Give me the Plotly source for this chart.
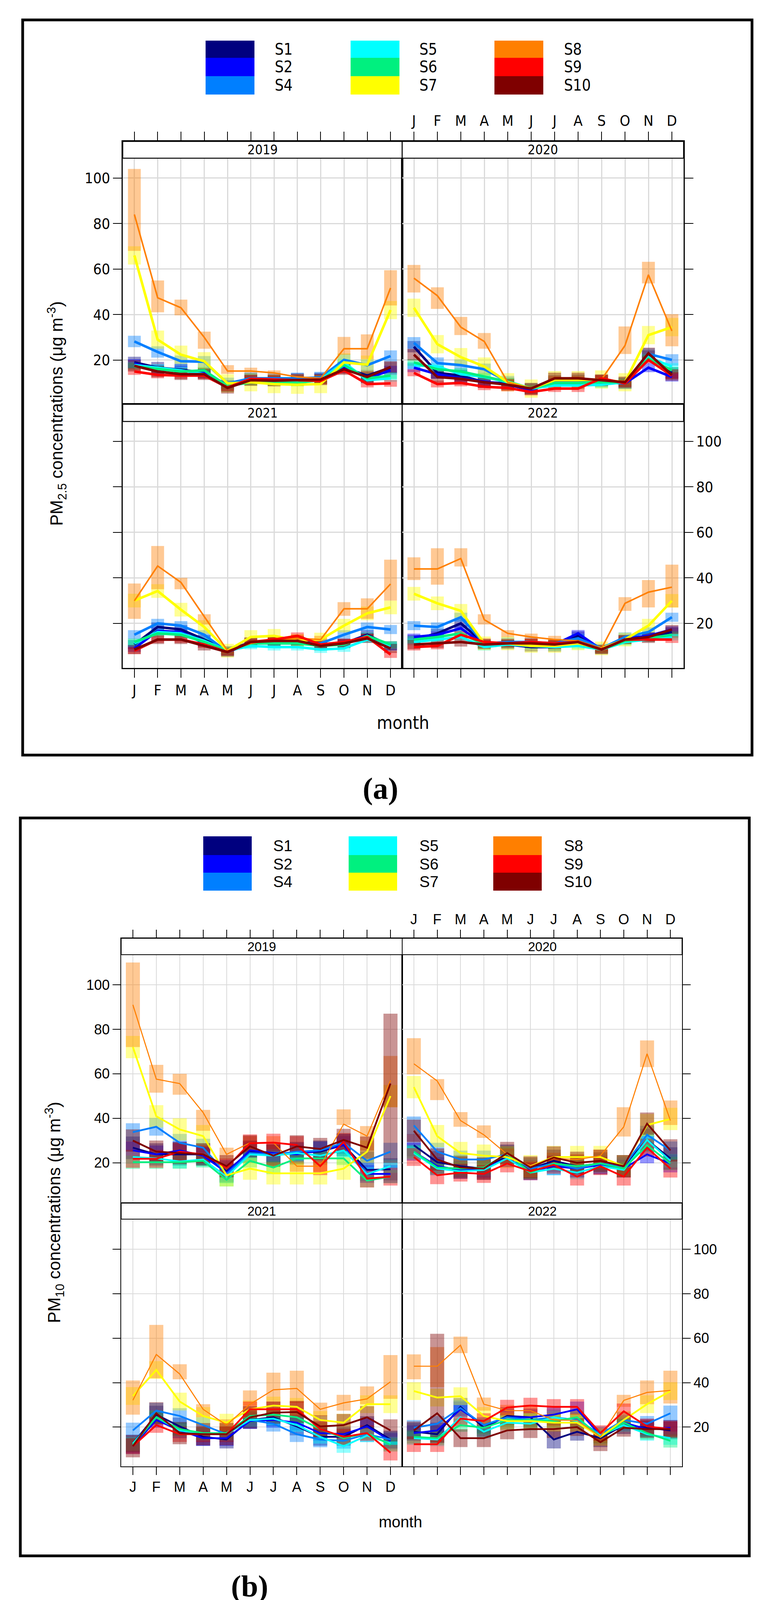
import plotly.graph_objects as go

W, H = 1947, 4128

MONTHS = ["J", "F", "M", "A", "M", "J", "J", "A", "S", "O", "N", "D"]
MONTH_NO = list(range(1, 13))
YEARS = ["2019", "2020", "2021", "2022"]
SITES = ["S1", "S2", "S4", "S5", "S6", "S7", "S8", "S9", "S10"]
SITE_COLORS = ["#00007F", "#0000FF", "#007FFF", "#00FFFF", "#00F07F",
               "#FFFF00", "#FF7F00", "#FF0000", "#7F0000"]
Y_TICKS = [20, 40, 60, 80, 100]

# ---- (a) PM2.5, one row per year 2019..2022 ----
PM25_S1 = [[19, 16.7, 15.8, 14.4, 8.6, 12, 11.2, 11.8, 12, 16.7, 13.2, 16.7],
           [25.9, 14.4, 13.2, 10.3, 9.8, 7.2, 10.9, 11.2, 11.2, 9.8, 21.8, 14.4],
           [10.7, 18.4, 17.3, 12.9, 8, 11.8, 12.3, 12.3, 10.7, 11.2, 15, 10.1],
           [12.9, 15.6, 20, 11.2, 10.7, 9.6, 9.6, 14.5, 8.5, 12.9, 14, 16.2]]
PM25_S2 = [[18.4, 16, 15.5, 14.4, 9.2, 11.5, 11, 12, 12, 17.2, 12, 15.5],
           [16.7, 13.8, 12, 10.6, 9.2, 6.9, 10.3, 10.3, 10.3, 9.8, 16.7, 12.6],
           [9, 16.7, 16.2, 11.2, 7.4, 11.2, 11.8, 11.8, 10.7, 11.2, 14.5, 9.6],
           [14, 15, 17.8, 10.7, 11.2, 10.7, 10.7, 15.6, 8.5, 13.4, 14.5, 17.3]]
PM25_S4 = [[28.2, 23.6, 19.5, 19.3, 9.8, 12, 12, 12, 12.4, 20.1, 17.8, 21.8],
           [27.6, 18.7, 17.8, 16, 10.6, 7.5, 9.8, 9.8, 10.6, 9.8, 22.7, 20.1],
           [15, 20, 19, 15, 7.4, 11.2, 11.2, 11.2, 11.2, 15, 18.4, 17.3],
           [19, 18.4, 22.7, 11.2, 11.8, 11.8, 11.2, 13.4, 9, 14, 16.2, 22.7]]
PM25_S5 = [[17.8, 16.7, 15.5, 13.8, 8.6, 10.6, 10.3, 10.3, 11.5, 19, 11.2, 12],
           [17.8, 17.2, 13.8, 12.6, 10.3, 7.5, 8.9, 8.9, 9.2, 10.3, 21.3, 17.2],
           [11.2, 16.2, 15.6, 12.3, 8, 10.1, 9.6, 9.6, 8.5, 9, 12.9, 10.1],
           [11.8, 12.9, 14, 9.6, 10.7, 10.1, 9.6, 10.1, 8.5, 11.8, 12.9, 14]]
PM25_S6 = [[17.2, 16, 15, 15.5, 8.6, 10.3, 10.3, 10, 11.2, 17.8, 12, 13.2],
           [19, 16, 15, 12.9, 10.6, 7.5, 10, 10, 10.3, 10.3, 20.7, 15.5],
           [11.8, 15.6, 15, 11.8, 8, 11.2, 11.2, 11.2, 10.1, 10.7, 14.5, 10.7],
           [12.9, 14, 15.6, 10.7, 11.2, 10.7, 10.7, 11.2, 8.5, 12.3, 13.4, 15]]
PM25_S7 = [[66, 29, 22.4, 19.5, 9.8, 10.3, 9.5, 9.2, 9.5, 19, 18, 42],
           [43, 27, 21.3, 17.2, 10.3, 7.5, 11.2, 11.2, 11.5, 10.3, 31, 34.5],
           [30, 34.2, 26, 18.4, 8, 14, 14.5, 12.3, 12.9, 19, 24.4, 27],
           [33, 28.8, 25.5, 11.2, 11.2, 10.1, 10.1, 11.2, 9, 12.9, 19, 29.9]]
PM25_S8 = [[84, 47.4, 43, 30, 15.2, 15.2, 14.4, 12.6, 12, 25, 25, 51.7],
           [56, 48.3, 34.5, 28.2, 10.3, 7.5, 11.8, 11.8, 11.5, 26.4, 57.5, 32.8],
           [29.9, 45.2, 38, 23, 8, 11.2, 12.9, 13.4, 12.9, 26.4, 26.4, 37.3],
           [43.9, 43.9, 48.5, 21.6, 15.6, 14, 12.9, 12.3, 9, 28.8, 33.7, 35.9]]
PM25_S9 = [[15, 13.5, 13.2, 13.2, 8, 11.8, 11.5, 11.2, 10.9, 15.5, 9.5, 9.8],
           [14.4, 9.5, 10, 8.3, 7.8, 6, 7.5, 7.5, 12, 9.8, 20.1, 13.2],
           [8, 12.9, 12.9, 10.7, 7.4, 11.8, 12.9, 14.5, 10.7, 11.8, 14, 6.3],
           [9.6, 10.1, 15, 11.8, 11.2, 11.8, 11.2, 11.8, 8.5, 12.9, 12.9, 12.9]]
PM25_S10 = [[17.5, 15, 13.8, 13.8, 7.8, 11.2, 11, 11.2, 11.5, 16, 12.6, 17],
            [22.4, 12.6, 11.8, 10.3, 9.2, 7.5, 12, 12, 11.2, 10.3, 23, 13.5],
            [8.5, 12.9, 12.9, 10.1, 7.4, 11.8, 12.3, 12.3, 10.1, 11.2, 13.4, 9],
            [10.7, 11.2, 11.8, 10.7, 11.2, 11.2, 10.7, 11.8, 8.5, 12.9, 14, 17.3]]
PM25_S8_LO = [[68, 41, 39.7, 25, 14, 14.6, 13, 11, 10.5, 22.4, 20.4, 44],
              [49.7, 42.5, 31, 25, 9, 6.5, 10.5, 10.5, 10, 22.7, 53.7, 26.1],
              [22, 35, 35, 19.5, 7, 10, 11.5, 12, 11.5, 23.3, 22, 30],
              [39, 37, 45, 19.5, 14, 12.5, 11.5, 11, 8, 25.5, 27, 27]]
PM25_S8_HI = [[104, 55, 46.6, 32.5, 17.8, 16.7, 15.5, 14, 13.5, 30.2, 31.3, 59.5],
              [61.8, 52, 39, 31.9, 11.5, 8.5, 13, 13, 13, 34.8, 63.2, 40.2],
              [37.5, 54, 40, 24, 9, 12.5, 14.5, 15, 14.5, 29.3, 31, 48],
              [49, 53, 53, 24, 17, 15.5, 14.5, 13.5, 10.5, 31.5, 39, 45.8]]
# half height of the shaded interval, per site and year
PM25_SPREAD = {"S1": [2.5, 2.5, 2, 2], "S2": [2, 2, 1.5, 1.5], "S4": [2.5, 2.5, 2, 2],
               "S5": [1.5, 1.5, 1.5, 1.5], "S6": [1.5, 1.5, 1.5, 1.5], "S7": [4, 4, 3, 3],
               "S9": [1.5, 1.5, 1.5, 1.5], "S10": [2.5, 2.5, 2, 2]}

# ---- (b) PM10 ----
PM10_S1 = [[26.8, 23.8, 23.8, 23.8, 16.2, 25, 23.8, 24.4, 25, 28, 16.8, 17.1],
           [27.9, 20.3, 18.5, 17.4, 23.2, 17.4, 20.9, 18.5, 19.7, 18.5, 30.3, 22],
           [12.6, 25.6, 20.3, 15.6, 14.4, 23.2, 24.4, 20.3, 15.6, 15.6, 20.9, 14.4],
           [17.9, 16.8, 29.1, 19.7, 25, 24.4, 14.4, 17.9, 15, 20.9, 19.7, 18.5]]
PM10_S2 = [[25.6, 23.8, 25.6, 23.2, 15.6, 25.6, 24.4, 23.8, 25.6, 28, 15, 15],
           [25, 18.5, 16.8, 17.4, 22, 16.2, 18.5, 17.4, 19.1, 17.4, 23.8, 19.7],
           [11.4, 23.2, 18.5, 15, 15, 22.7, 23.2, 22, 17.3, 16.8, 20.3, 13.8],
           [17.3, 18.5, 28, 20.9, 24.4, 24.4, 25.6, 28, 16.2, 22, 19.1, 19.7]]
PM10_S4 = [[33.8, 36.2, 29, 26.8, 15, 24.4, 23.8, 25, 25.6, 29, 20.9, 25],
           [36.8, 25, 21.5, 21.5, 23.8, 17.4, 19.7, 17.4, 19.7, 18.5, 32.6, 25.6],
           [18.5, 27.4, 25, 20.9, 16.8, 23.2, 21.5, 16.8, 14.4, 13.8, 16.8, 14.4],
           [19.7, 21.5, 28.6, 20.9, 24.4, 23.2, 24.4, 23.2, 16.8, 23.2, 21.5, 26.2]]
PM10_S5 = [[22.6, 22, 20.6, 21.5, 13.8, 23.8, 23.2, 24.4, 23.2, 25.6, 15, 18.5],
           [24.4, 17.4, 16.2, 16.8, 22, 15.6, 17.4, 15.6, 18.5, 16.8, 30.3, 20.9],
           [12.6, 24.4, 18.5, 16.8, 16.8, 23.2, 23.8, 20.9, 15.6, 11.4, 16.2, 12.6],
           [15, 14.4, 24.4, 17.9, 22, 21.5, 24.4, 22.7, 16.2, 20.9, 16.8, 15]]
PM10_S6 = [[20.3, 20.3, 20.3, 20.9, 12.4, 20.9, 17.9, 22, 22, 22, 12, 13.8],
           [25, 17.9, 17.4, 17.9, 24, 15.6, 19.7, 18.5, 19.7, 17.4, 27.9, 19.7],
           [12, 24.4, 19.1, 17.3, 17.3, 25, 25.6, 24.4, 19.1, 15, 17.3, 12],
           [15.6, 15, 20.9, 19.7, 23.2, 23.2, 22.7, 24.4, 15.6, 22, 17.3, 13.8]]
PM10_S7 = [[72, 40.9, 35, 32, 14.4, 17.4, 15.3, 15.3, 15.3, 17.4, 25, 50],
           [54, 32, 24.4, 23.2, 22.6, 18.5, 22.6, 22.6, 22.6, 18.5, 37, 39.7],
           [34, 45.7, 31.5, 25, 22, 28, 29.7, 29.1, 23.2, 22, 30.3, 30.3],
           [36.2, 33.3, 33.9, 25, 22.7, 22.7, 22, 22, 15.6, 23.2, 30.3, 36.2]]
PM10_S8 = [[91, 57.6, 55.6, 42.6, 23.8, 29, 29, 18.5, 18.5, 37.4, 32, 57],
           [64.5, 56.8, 39, 32.6, 23.8, 18.5, 22, 21.5, 23.2, 36.2, 69, 39],
           [32.1, 52.7, 43.9, 28, 20.9, 30.3, 36.8, 37.4, 28, 30.9, 32.7, 40.4],
           [47.4, 47.4, 56.9, 30.3, 27.4, 27.4, 23.2, 23, 15.6, 32, 35.6, 36.5]]
PM10_S9 = [[21.8, 21.8, 25, 23.8, 17.9, 28.8, 29.1, 28, 18.5, 29.4, 12.9, 13.8],
           [22.6, 14.4, 15.6, 15, 19.7, 16.2, 19.1, 13.8, 18.5, 13.8, 26.8, 17.4],
           [11.4, 20.9, 16.8, 16.8, 16.8, 28, 28, 28, 19.1, 15.6, 17.3, 8.5],
           [12.3, 12.3, 23.8, 22.7, 28.8, 29.7, 29.1, 29.1, 17.3, 27.1, 20.3, 19.1]]
PM10_S10 = [[30, 25, 24.4, 23.8, 18.5, 27.4, 23.2, 27.4, 26.2, 30.3, 26.8, 55.6],
            [34.4, 21.5, 17.9, 17.4, 24.4, 17.9, 22.4, 20, 20.9, 18.5, 37.6, 25.6],
            [11.4, 26.2, 17.3, 16.8, 16.8, 24.4, 26.5, 26.8, 20.3, 20.9, 24.4, 18.5],
            [18.5, 26.2, 15, 15, 18.5, 19.1, 19.1, 20, 13.2, 19.7, 19.1, 19.1]]
PM10_S8_LO = [[72, 51.5, 50.6, 34.4, 21.5, 26, 26, 16, 16, 37, 25.6, 45],
              [59.7, 48.2, 36.2, 31.2, 21, 16, 19.5, 19, 20.5, 31.8, 63, 37],
              [25.6, 42, 41.5, 24.4, 18.5, 29.7, 31.5, 30.9, 25, 27.4, 30.3, 32.7],
              [41.5, 38, 53.3, 27.4, 24.5, 24.5, 20.5, 20.5, 13, 29.1, 30.3, 30.6]]
PM10_S8_HI = [[110, 64, 60, 43.8, 26.8, 32, 32, 21, 21, 44, 36.5, 68],
              [76, 57.6, 42.8, 36.8, 26.5, 21, 24.5, 24, 26, 45, 75, 48],
              [41, 66, 48.3, 30.3, 23.5, 36.5, 44.5, 45.4, 31, 34.5, 38.3, 52.4],
              [52.7, 56, 60.7, 33.3, 30, 30, 26, 26, 18, 34.5, 41, 45.4]]
PM10_SPREAD = {"S1": [5, 5, 4, 4], "S2": [4, 4, 3.5, 3.5], "S4": [4, 4, 3.5, 3.5],
               "S5": [3, 3, 3, 3], "S6": [3, 3, 3, 3], "S7": [5, 5, 4, 4],
               "S9": [4, 4, 3.5, 3.5], "S10": [5, 5, 5, 4]}
# very wide S10 intervals: (year index, month index, low, high)
PM10_S10_WIDE = [(0, 11, 20, 87), (3, 1, 13, 62)]

PM25 = {"S1": PM25_S1, "S2": PM25_S2, "S4": PM25_S4, "S5": PM25_S5, "S6": PM25_S6,
        "S7": PM25_S7, "S8": PM25_S8, "S9": PM25_S9, "S10": PM25_S10}
PM10 = {"S1": PM10_S1, "S2": PM10_S2, "S4": PM10_S4, "S5": PM10_S5, "S6": PM10_S6,
        "S7": PM10_S7, "S8": PM10_S8, "S9": PM10_S9, "S10": PM10_S10}

NARROW = "Liberation Sans Narrow, Arial Narrow, DejaVu Sans Condensed, Liberation Sans, sans-serif"
REGULAR = "Liberation Sans, Arial, sans-serif"


def rgba(hx, a):
    h = hx.lstrip("#")
    return f"rgba({int(h[0:2], 16)},{int(h[2:4], 16)},{int(h[4:6], 16)},{a})"


def X(p):
    return p / W


def Y(p):
    return 1 - p / H


# layout of the two blocks, in page pixels
BLOCK_A = dict(box=(50, 43, 1916, 1925), cols=(306, 1021, 1741),
               rows=[(354, 397, 1027, (0.6, 108.7)), (1027, 1071, 1702, (0.4, 108.7))],
               sw_x=(518, 889, 1257), sw_w=125, sw_y=(96, 140, 187, 234), txt_x=(693, 1063, 1433),
               font=NARROW, tick_size=38, strip_size=34, leg_size=40, xlab_size=46,
               xlab=(1023, 1842), ylab=(137, 1051), tag=("(a)", 965, 2010),
               ylab_text="PM<sub>2.5</sub> concentrations (μg m<sup>-3</sup>)",
               lw=6.5, axw=2.5, gridw=2.5, bw=0.55, ticklen=22)
BLOCK_B = dict(box=(44, 2086, 1909, 3975), cols=(302, 1021, 1737),
               rows=[(2394, 2436, 3072, (1.9, 113.5)), (3072, 3113, 3746, (2.3, 113.6))],
               sw_x=(512, 884, 1254), sw_w=124, sw_y=(2133, 2181, 2226, 2272), txt_x=(689, 1063, 1433),
               font=REGULAR, tick_size=36, strip_size=33, leg_size=40, xlab_size=40,
               xlab=(1017, 3888), ylab=(131, 3096), tag=("(b)", 630, 4052),
               ylab_text="PM<sub>10</sub> concentrations (μg m<sup>-3</sup>)",
               lw=4.5, axw=2, gridw=2, bw=0.6, ticklen=20)

fig = go.Figure()
shapes, annotations = [], []


def add_block(bi, g, data, spread, s8_lo, s8_hi, wide):
    x0b, y0b, x1b, y1b = g["box"]
    shapes.append(dict(type="rect", xref="paper", yref="paper", x0=X(x0b), x1=X(x1b),
                       y0=Y(y1b), y1=Y(y0b), line=dict(color="black", width=7), layer="above"))
    # legend blocks
    for c in range(3):
        for r in range(3):
            k = c * 3 + r
            shapes.append(dict(type="rect", xref="paper", yref="paper",
                               x0=X(g["sw_x"][c]), x1=X(g["sw_x"][c] + g["sw_w"]),
                               y0=Y(g["sw_y"][r + 1]), y1=Y(g["sw_y"][r]),
                               fillcolor=SITE_COLORS[k], line=dict(width=0), layer="above"))
            annotations.append(dict(xref="paper", yref="paper", x=X(g["txt_x"][c]),
                                    y=Y((g["sw_y"][r] + g["sw_y"][r + 1]) / 2), text=SITES[k],
                                    showarrow=False, xanchor="left", yanchor="middle",
                                    font=dict(family=g["font"], size=g["leg_size"], color="black")))
    cols = g["cols"]
    for p in range(4):
        row, col = divmod(p, 2)
        strip_top, data_top, bottom, (r0, r1) = g["rows"][row]
        r_top = r1 + (r1 - r0) * (data_top - strip_top) / (bottom - data_top)
        n = bi * 4 + p + 1
        xa, ya = ("x", "y") if n == 1 else (f"x{n}", f"y{n}")
        fig.update_layout({
            ("xaxis" if n == 1 else f"xaxis{n}"): dict(
                domain=[X(cols[col]), X(cols[col + 1])], range=[0.5, 12.5], anchor=ya,
                tickmode="array", tickvals=MONTH_NO, ticktext=MONTHS,
                side="top" if row == 0 else "bottom",
                showticklabels=(p == 1 or p == 2), ticks="outside", ticklen=g["ticklen"],
                tickwidth=2, tickcolor="black", showgrid=True, gridcolor="#dadada",
                gridwidth=g["gridw"], showline=True, mirror=True, linecolor="black",
                linewidth=g["axw"], zeroline=False, fixedrange=True,
                tickfont=dict(family=g["font"], size=g["tick_size"], color="black")),
            ("yaxis" if n == 1 else f"yaxis{n}"): dict(
                domain=[Y(bottom), Y(strip_top)], range=[r0, r_top], anchor=xa,
                tickmode="array", tickvals=Y_TICKS, side="left" if col == 0 else "right",
                showticklabels=(p == 0 or p == 3), ticks="outside", ticklen=g["ticklen"],
                tickwidth=2, tickcolor="black", showgrid=True, gridcolor="#dadada",
                gridwidth=g["gridw"], showline=True, mirror=True, linecolor="black",
                linewidth=g["axw"], zeroline=False, fixedrange=True,
                tickfont=dict(family=g["font"], size=g["tick_size"], color="black")),
        })
        # strip
        shapes.append(dict(type="rect", xref="paper", yref="paper",
                           x0=X(cols[col]), x1=X(cols[col + 1]), y0=Y(data_top), y1=Y(strip_top),
                           fillcolor="white", line=dict(color="black", width=g["axw"]), layer="above"))
        annotations.append(dict(xref="paper", yref="paper",
                                x=X((cols[col] + cols[col + 1]) / 2), y=Y((strip_top + data_top) / 2),
                                text=YEARS[p], showarrow=False, xanchor="center", yanchor="middle",
                                font=dict(family=g["font"], size=g["strip_size"], color="black")))
        # shaded intervals
        for k, s in enumerate(SITES):
            vals = data[s][p]
            if s == "S8":
                lo, hi = list(s8_lo[p]), list(s8_hi[p])
            else:
                lo = [v - spread[s][p] for v in vals]
                hi = [v + spread[s][p] for v in vals]
            if s == "S10":
                for (yi, mi, l, h) in wide:
                    if yi == p:
                        lo[mi], hi[mi] = l, h
            fig.add_trace(go.Bar(x=MONTH_NO, y=[h - l for l, h in zip(lo, hi)], base=lo,
                                 width=g["bw"], marker=dict(color=rgba(SITE_COLORS[k], 0.42),
                                                            line=dict(width=0)),
                                 xaxis=xa, yaxis=ya, showlegend=False, hoverinfo="skip"))
        for k, s in enumerate(SITES):
            w = g["lw"] * (0.6 if s == "S8" else 1.0)
            fig.add_trace(go.Scatter(x=MONTH_NO, y=data[s][p], mode="lines",
                                     line=dict(color=SITE_COLORS[k], width=w),
                                     xaxis=xa, yaxis=ya, showlegend=False, hoverinfo="skip"))
    annotations.append(dict(xref="paper", yref="paper", x=X(g["xlab"][0]), y=Y(g["xlab"][1]),
                            text="month", showarrow=False, xanchor="center", yanchor="middle",
                            font=dict(family=g["font"], size=g["xlab_size"], color="black")))
    annotations.append(dict(xref="paper", yref="paper", x=X(g["ylab"][0]), y=Y(g["ylab"][1]),
                            text=g["ylab_text"], textangle=-90, showarrow=False,
                            xanchor="center", yanchor="middle",
                            font=dict(family=REGULAR, size=44, color="black")))
    annotations.append(dict(xref="paper", yref="paper", x=X(g["tag"][1]), y=Y(g["tag"][2]),
                            text="<b>" + g["tag"][0] + "</b>", showarrow=False,
                            xanchor="center", yanchor="middle",
                            font=dict(family="Liberation Serif, Times New Roman, serif",
                                      size=78, color="black")))


add_block(0, BLOCK_A, PM25, PM25_SPREAD, PM25_S8_LO, PM25_S8_HI, [])
add_block(1, BLOCK_B, PM10, PM10_SPREAD, PM10_S8_LO, PM10_S8_HI, PM10_S10_WIDE)

fig.update_layout(width=W, height=H, margin=dict(l=0, r=0, t=0, b=0),
                  paper_bgcolor="white", plot_bgcolor="white", barmode="overlay",
                  showlegend=False, hovermode=False, shapes=shapes, annotations=annotations)

fig.write_html("out.html")
